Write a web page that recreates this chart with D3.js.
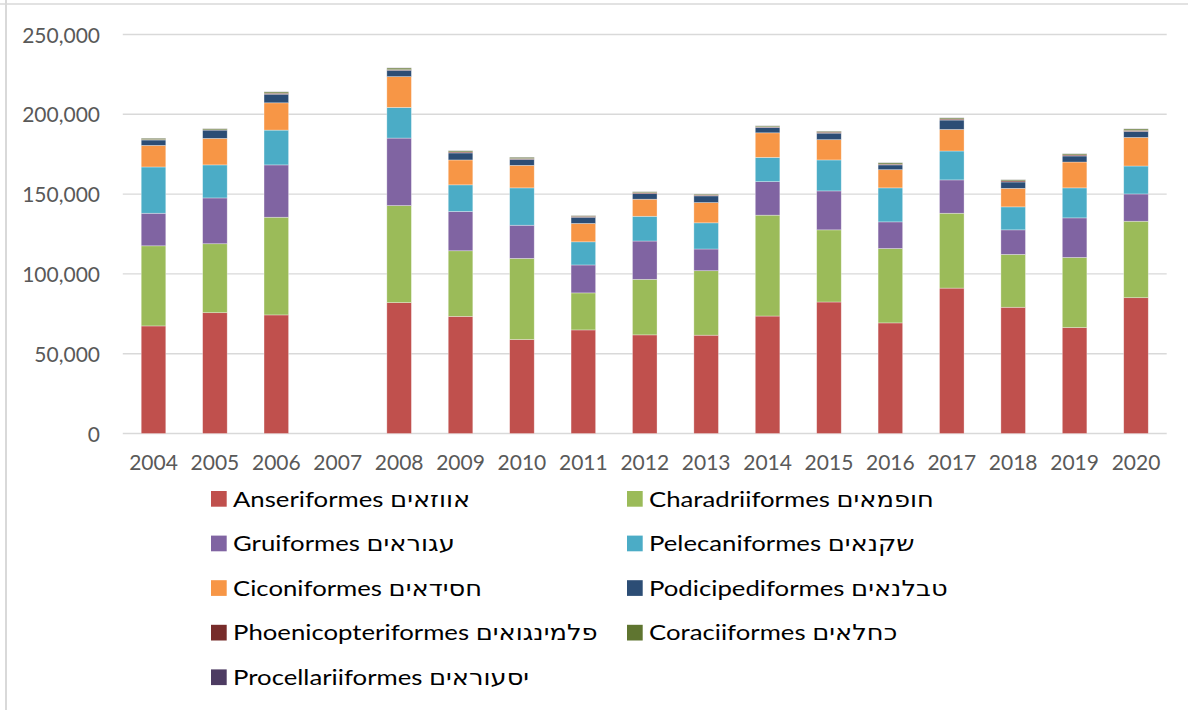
<!DOCTYPE html>
<html>
<head>
<meta charset="utf-8">
<script src="https://cdn.jsdelivr.net/npm/d3@7"></script>
<style>
  html, body { margin: 0; padding: 0; background: #fff; }
  svg { display: block; }
</style>
</head>
<body>
<svg id="chart" width="1188" height="710"></svg>
<script>
const years = ["2004","2005","2006","2007","2008","2009","2010","2011","2012","2013","2014","2015","2016","2017","2018","2019","2020"];
const seriesNames = [
  "Anseriformes אווזאים",
  "Charadriiformes חופמאים",
  "Gruiformes עגוראים",
  "Pelecaniformes שקנאים",
  "Ciconiformes חסידאים",
  "Podicipediformes טבלנאים",
  "Phoenicopteriformes פלמינגואים",
  "Coraciiformes כחלאים",
  "Procellariiformes יסעוראים"
];
const seriesColors = ["#C0504D","#9BBB59","#8064A2","#4BACC6","#F79646","#2C4D75","#772C2A","#5F7530","#4D3B62"];

const anseriformes     = [67400,75700,74300,0,82000,73400,58900,64900,61800,61600,73600,82400,69300,91100,79100,66400,85100];
const charadriiformes  = [50200,43200,61200,0,60800,41100,50800,23200,34800,40400,63200,45200,46600,46900,33100,43900,47900];
const gruiformes       = [20400,28700,32800,0,42300,24600,20800,17500,24000,13600,21000,24400,16700,20900,15400,24800,17100];
const pelecaniformes   = [29000,20700,21800,0,19200,16700,23400,14500,15500,16400,15200,19400,21300,18100,14400,18800,17500];
const ciconiformes     = [13500,16600,17100,0,19300,15600,14100,11500,10700,12700,15400,12700,11400,13500,11600,16200,17900];
const podicipediformes = [3400,5200,5400,0,4000,4400,3800,3900,3500,4200,3400,4100,3000,5900,4000,3800,3800];
const phoenicopteriformes = [300,200,600,0,400,600,500,600,600,500,300,600,500,600,700,600,600];
const coraciiformes    = [800,700,800,0,1000,700,800,400,600,600,600,600,800,700,700,700,900];
const procellariiformes = [100,100,100,0,100,100,100,100,100,100,100,100,100,100,100,100,100];

const yTicks = [0,50000,100000,150000,200000,250000];

const seriesValues = [anseriformes,charadriiformes,gruiformes,pelecaniformes,ciconiformes,podicipediformes,phoenicopteriformes,coraciiformes,procellariiformes];
const keys = seriesNames;
const rows = years.map((yr,i) => {
  const r = {year: yr};
  keys.forEach((k,j) => r[k] = seriesValues[j][i]);
  return r;
});

const svg = d3.select("#chart");
const FONT = "Lato, 'DejaVu Sans', sans-serif";

// frame
svg.append("line").attr("x1",6).attr("x2",6).attr("y1",0).attr("y2",710).attr("stroke","#d9d9d9").attr("stroke-width",2);
svg.append("line").attr("x1",0).attr("x2",1188).attr("y1",4).attr("y2",4).attr("stroke","#d9d9d9").attr("stroke-width",1.5);

const x = d3.scaleBand().domain(years).range([122.8,1166.7]).paddingInner(0.6).paddingOuter(0.3);
const y = d3.scaleLinear().domain([0,250000]).range([433.5,34.5]);

// gridlines
svg.append("g").selectAll("line").data(yTicks).join("line")
  .attr("x1",122.8).attr("x2",1166.7)
  .attr("y1",d=>y(d)).attr("y2",d=>y(d))
  .attr("stroke","#d9d9d9").attr("stroke-width",1.4);

// y axis labels
const yAxis = d3.axisLeft(y).tickValues(yTicks).tickSize(0).tickPadding(0).tickFormat(d3.format(","));
const gy = svg.append("g").attr("transform","translate(100,0)").call(yAxis);
gy.select(".domain").remove();
gy.selectAll("text").attr("font-family",FONT).attr("font-size",21).attr("fill","#595959").attr("dy","0.36em");

// x axis labels
const xAxis = d3.axisBottom(x).tickSize(0).tickPadding(0);
const gx = svg.append("g").attr("transform","translate(0,455)").call(xAxis);
gx.select(".domain").remove();
gx.selectAll("text").attr("font-family",FONT).attr("font-size",21).attr("fill","#595959").attr("dy","0.71em");

// stacked bars
const stack = d3.stack().keys(keys);
const stacked = stack(rows);
svg.append("g").selectAll("g").data(stacked).join("g")
  .attr("fill",(d,i)=>seriesColors[i])
  .selectAll("rect").data(d=>d).join("rect")
  .attr("x",d=>x(d.data.year))
  .attr("width",x.bandwidth())
  .attr("y",d=>y(d[1]))
  .attr("height",d=>Math.max(0,y(d[0])-y(d[1])))
  .attr("stroke","#ffffff").attr("stroke-opacity",0.45).attr("stroke-width",0.7);

// legend
const legendCols = [211, 627];
const legendTextOff = 22;
const legendRow0 = 491, legendStep = 44.6;
const lg = svg.append("g");
keys.forEach((k,i) => {
  const col = i % 2, row = Math.floor(i/2);
  const gx0 = legendCols[col], gy0 = legendRow0 + row*legendStep;
  lg.append("rect").attr("x",gx0).attr("y",gy0).attr("width",15.7).attr("height",15.7).attr("fill",seriesColors[i]);
  lg.append("g").attr("transform",`translate(${gx0+legendTextOff},${gy0+15.5}) scale(1.17,1)`)
    .append("text").attr("x",0).attr("y",0)
    .attr("font-family",FONT).attr("font-size",22).attr("fill","#000")
    .text(k);
});
</script>
</body>
</html>
